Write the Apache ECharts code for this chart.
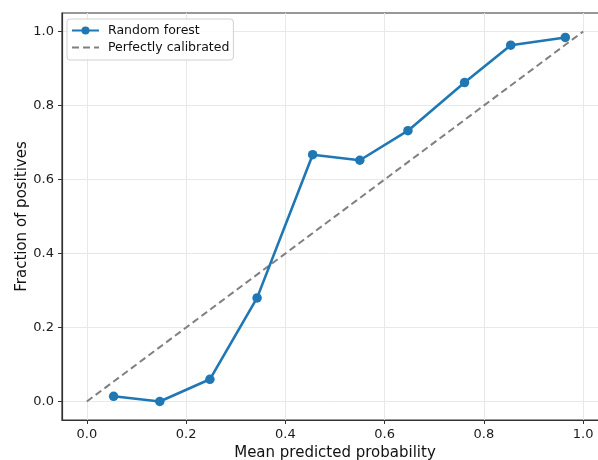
<!DOCTYPE html>
<html>
<head>
<meta charset="utf-8">
<script src="https://cdn.jsdelivr.net/npm/echarts@6/dist/echarts.min.js"></script>
<style>
  html, body { margin: 0; padding: 0; background: #fff; }
  #chart { width: 598px; height: 460px; }
</style>
</head>
<body>
<div id="chart"></div>
<script>
// mean predicted probability per bin and observed fraction of positives
const meanPredicted = [0.054, 0.147, 0.248, 0.343, 0.455, 0.550, 0.647, 0.761, 0.854, 0.964]
const fractionPositives = [0.014, 0.0, 0.060, 0.280, 0.667, 0.652, 0.732, 0.862, 0.963, 0.984]
const diagonal = [0, 1]
const tickValues = [0, 0.2, 0.4, 0.6, 0.8, 1.0]

const chart = echarts.init(document.getElementById('chart'))

const fontFamily = 'DejaVu Sans'

const axisCommon = {
  type: 'value',
  min: -0.05,
  max: 1.05,
  splitNumber: 5,
  nameLocation: 'middle',
  nameMoveOverlap: false,
  nameTextStyle: { fontFamily, fontSize: 15, color: '#111' },
  axisLine: { show: true, onZero: false, lineStyle: { color: '#333', width: 1.2 } },
  axisTick: { show: true, length: 4, customValues: tickValues, lineStyle: { color: '#333', width: 1 } },
  axisLabel: {
    customValues: tickValues,
    fontFamily,
    fontSize: 13,
    color: '#1a1a1a',
    formatter: v => v.toFixed(1)
  },
  splitLine: { show: true, lineStyle: { color: '#e8e8e8', width: 1 } }
}

const option = {
  animation: false,
  backgroundColor: '#fff',
  grid: {
    left: 62,
    top: 13,
    right: -10,
    bottom: 40,
    outerBoundsMode: 'none',
    containLabel: false,
    show: true,
    borderColor: '#333',
    borderWidth: 1.2,
    backgroundColor: 'transparent'
  },
  legend: {
    orient: 'vertical',
    left: 67,
    top: 19,
    padding: [5, 4, 6, 4],
    itemWidth: 27,
    itemHeight: 10,
    itemGap: 4,
    borderColor: '#d0d0d0',
    borderWidth: 1,
    borderRadius: 3,
    backgroundColor: 'rgba(255,255,255,0.85)',
    textStyle: { fontFamily, fontSize: 12.5, color: '#111', padding: [0, 0, 0, 4] },
    data: [
      'Random forest',
      { name: 'Perfectly calibrated', itemStyle: { opacity: 0 } }
    ]
  },
  xAxis: {
    ...axisCommon,
    name: 'Mean predicted probability',
    nameGap: 26,
    axisLabel: { ...axisCommon.axisLabel, margin: 8 }
  },
  yAxis: {
    ...axisCommon,
    name: 'Fraction of positives',
    nameGap: 32,
    axisLabel: { ...axisCommon.axisLabel, margin: 8 }
  },
  series: [
    {
      name: 'Perfectly calibrated',
      type: 'line',
      data: diagonal.map(v => [v, v]),
      symbol: 'none',
      lineStyle: { color: '#808080', width: 2, type: [7, 4] },
      itemStyle: { color: '#808080' },
      z: 2
    },
    {
      name: 'Random forest',
      type: 'line',
      data: meanPredicted.map((x, i) => [x, fractionPositives[i]]),
      symbol: 'circle',
      symbolSize: 9.5,
      lineStyle: { color: '#1f77b4', width: 2.6 },
      itemStyle: { color: '#1f77b4' },
      z: 3
    }
  ]
}

chart.setOption(option)
</script>
</body>
</html>
